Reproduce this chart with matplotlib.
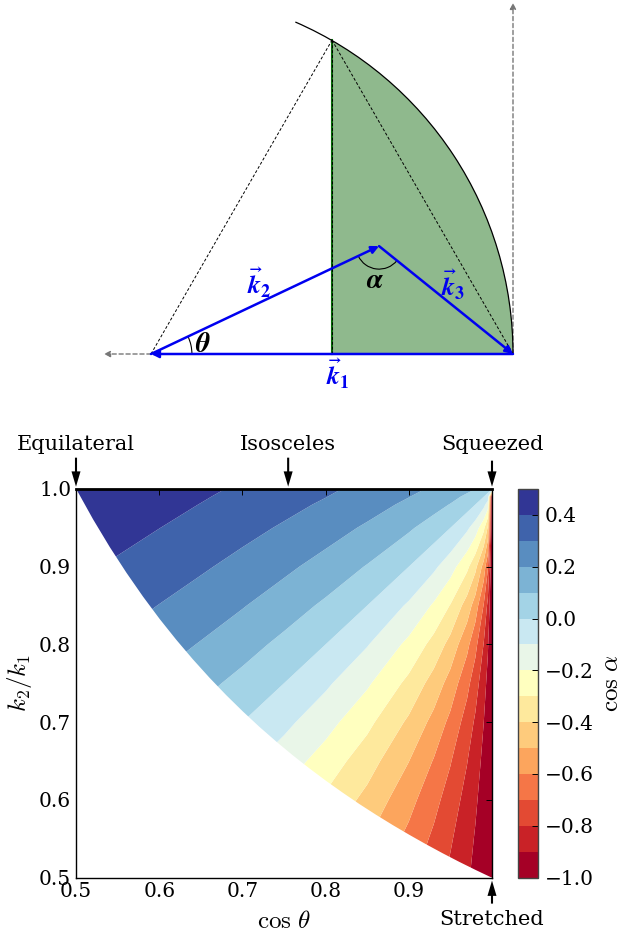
from __future__ import annotations

import matplotlib
matplotlib.use("Agg")
import matplotlib.pyplot as plt
from matplotlib.patches import Arc, FancyArrowPatch, Rectangle, Wedge
import numpy as np

nan = float("nan")

cos_theta = [0.5, 0.55, 0.6, 0.65, 0.7, 0.75, 0.8, 0.85, 0.9, 0.93, 0.95, 0.97, 0.98, 0.99, 0.995, 1.0]
k_ratio = [0.5, 0.55, 0.6, 0.65, 0.7, 0.75, 0.8, 0.85, 0.9, 0.95, 0.98, 0.99, 1.0]

# cos(alpha) read on the grid above, one list per k2/k1 row
row_050 = [nan] * 8 + [-.676, -.760, -.822, -.888, -.924, -.961, -.980, -1.0]
row_055 = [nan] * 6 + [-.385, -.495, -.626, -.719, -.788, -.865, -.908, -.952, -.976, -1.0]
row_060 = [nan] * 5 + [-.221, -.316, -.429, -.567, -.668, -.746, -.836, -.886, -.940, -.970, -1.0]
row_065 = [nan] * 4 + [-.070, -.149, -.243, -.355, -.498, -.606, -.693, -.796, -.856, -.924, -.961, -1.0]
row_070 = [nan] * 3 + [.066, 0, -.075, -.164, -.274, -.417, -.530, -.625, -.743, -.815, -.899, -.947, -1.0]
row_075 = [nan] * 2 + [.184, .130, .070, 0, -.083, -.186, -.325, -.440, -.539, -.671, -.756, -.862, -.926, -1.0]
row_080 = [nan] + [.287, .243, .194, .139, .075, 0, -.094, -.224, -.333, -.433, -.573, -.671, -.803, -.890, -1.0]
row_085 = [nan] + [.338, .298, .255, .206, .149, .083, 0, -.114, -.213, -.305, -.443, -.547, -.704, -.824, -1.0]
row_090 = [.419, .387, .351, .313, .270, .221, .164, .094, 0, -.081, -.158, -.277, -.373, -.538, -.689, -1.0]
row_095 = [.461, .432, .401, .367, .330, .289, .243, .186, .114, .054, 0, -.082, -.149, -.273, -.411, -1.0]
row_098 = [.485, .458, .429, .398, .365, .328, .287, .240, .181, .135, .096, .041, 0, -.071, -.149, -1.0]
row_099 = [.492, .466, .438, .408, .376, .341, .302, .257, .202, .161, .127, .082, .050, 0, -.050, -1.0]
row_100 = [.500, .474, .447, .418, .387, .354, .316, .274, .224, .187, .158, .122, .100, .071, .050, 0]

# lower edge of the coloured region
edge_cos = [.5, .52, .54, .56, .58, .6, .62, .64, .66, .68, .7, .72, .74, .76, .78, .8, .82, .84, .86,
            .88, .9, .92, .94, .96, .98, 1.0]
edge_ratio = [1.0, .9615, .9259, .8929, .8621, .8333, .8065, .7813, .7576, .7353, .7143, .6944, .6757,
              .6579, .6410, .625, .6098, .5952, .5814, .5682, .5556, .5435, .5319, .5208, .5102, .5]

levels = [-1.0, -.9, -.8, -.7, -.6, -.5, -.4, -.3, -.2, -.1, 0, .1, .2, .3, .4, .5]
x_ticks = [.5, .6, .7, .8, .9, 1.0]
x_tick_labels = ["0.5", "0.6", "0.7", "0.8", "0.9", ""]
y_ticks = [.5, .6, .7, .8, .9, 1.0]
cbar_ticks = [-1.0, -.8, -.6, -.4, -.2, 0, .2, .4]

# triangle in units of k1, tail of k1 side at the origin
k2_tip = (0.63, 0.298)
apex = (0.5, 0.867)
k1_end = (1.0, 0.0)

W, H = 620, 936
BLUE = "#0000f0"
plt.rcParams["font.family"] = "DejaVu Serif"
plt.rcParams["font.size"] = 12
plt.rcParams["mathtext.fontset"] = "cm"

fig = plt.figure(figsize=(W / 100, H / 100), dpi=100)


def px_axes(x0, y0, x1, y1):
    return fig.add_axes([x0 / W, 1 - y1 / H, (x1 - x0) / W, (y1 - y0) / H])


# top diagram
dg = px_axes(0, 0, W, 400)
scale = 362.0
dg.set_xlim(-151 / scale, (W - 151) / scale)
dg.set_ylim((354 - 400) / scale, 354 / scale)
dg.axis("off")

green = Wedge((0, 0), 1.0, 0, 60, facecolor="#8fb98d", edgecolor="none", zorder=1)
dg.add_patch(green)
green.set_clip_path(Rectangle((0.5, 0), 0.6, 1.0, transform=dg.transData))
dg.add_patch(Arc((0, 0), 2, 2, theta1=0, theta2=66.5, color="k", lw=0.9, zorder=3))
dg.plot([apex[0], apex[0]], [0, apex[1]], color="#0a6a0a", lw=1.5, zorder=2)
for a, b in [((0, 0), apex), (apex, k1_end), ((apex[0], 0), apex)]:
    dg.plot([a[0], b[0]], [a[1], b[1]], color="k", lw=0.7, ls=(0, (3, 2)), zorder=3)


def arrow(a, b, color, lw, ls="-", ms=11, z=4):
    dg.add_patch(FancyArrowPatch(a, b, arrowstyle="-|>", mutation_scale=ms, color=color, lw=lw,
                                 linestyle=ls, shrinkA=0, shrinkB=0, zorder=z))


arrow((0, 0), (-0.13, 0), "#777777", 1.0, ls=(0, (3, 2)), ms=9, z=2)
arrow(k1_end, (1.0, 0.97), "#777777", 1.0, ls=(0, (3, 2)), ms=9, z=2)
arrow(k1_end, (0, 0), BLUE, 1.8)
arrow((0, 0), k2_tip, BLUE, 1.8)
arrow(k2_tip, k1_end, BLUE, 1.8)

ang_k2 = np.degrees(np.arctan2(k2_tip[1], k2_tip[0]))
ang_k3 = np.degrees(np.arctan2(k1_end[1] - k2_tip[1], k1_end[0] - k2_tip[0]))
dg.add_patch(Arc((0, 0), 0.226, 0.226, theta1=0, theta2=ang_k2, color="k", lw=0.8, zorder=3))
dg.add_patch(Arc(k2_tip, 0.127, 0.127, theta1=180 + ang_k2, theta2=360 + ang_k3, color="k", lw=0.8, zorder=3))


def dg_text(px, py, s, color, size=18.5):
    dg.text((px - 151) / scale, (354 - py) / scale, s, color=color, fontsize=size, ha="center", va="center",
            math_fontfamily="stix", zorder=5)


dg_text(338, 374, r"$\vec{\boldsymbol{k}}_{\mathbf{1}}$", BLUE)
dg_text(259, 283, r"$\vec{\boldsymbol{k}}_{\mathbf{2}}$", BLUE)
dg_text(453, 285, r"$\vec{\boldsymbol{k}}_{\mathbf{3}}$", BLUE)
dg_text(203, 344, r"$\boldsymbol{\theta}$", "k", size=20)
dg_text(375, 281, r"$\boldsymbol{\alpha}$", "k", size=20)

# contour panel
ax = px_axes(76, 489, 492, 877.5)
grid = np.ma.masked_invalid(np.array([row_050, row_055, row_060, row_065, row_070, row_075, row_080,
                                      row_085, row_090, row_095, row_098, row_099, row_100]))
cmap = plt.get_cmap("RdYlBu", len(levels) - 1)
cs = ax.contourf(cos_theta, k_ratio, grid, levels=levels, cmap=cmap, vmin=-1.0, vmax=0.5, antialiased=True)
ax.fill_between(edge_cos, 0.5, edge_ratio, color="white", lw=0, zorder=2)
ax.set_xlim(0.5, 1.0)
ax.set_ylim(0.5, 1.0)
ax.set_xticks(x_ticks)
ax.set_xticklabels(x_tick_labels)
ax.set_yticks(y_ticks)
ax.tick_params(direction="in", top=True, right=True, length=4, width=0.7, labelsize=14.5, pad=3.5)
ax.spines["top"].set_linewidth(2.0)
for side in ["left", "right", "bottom"]:
    ax.spines[side].set_linewidth(1.0)
ax.set_xlabel(r"$\cos\,\theta$", fontsize=18, va="center")
ax.xaxis.set_label_coords(0.5, -0.114)
ax.set_ylabel(r"$k_2/k_1$", fontsize=18, va="center")
ax.yaxis.set_label_coords(-0.135, 0.5)


def note(label, x, y, tip_y, tail_px, text_px):
    ax.annotate("", xy=(x, tip_y), xytext=(0, tail_px * 0.72), textcoords="offset points", annotation_clip=False,
                arrowprops=dict(facecolor="k", edgecolor="none", width=1.5, headwidth=6.5, headlength=11, shrink=0))
    ax.annotate(label, xy=(x, y), xytext=(0, text_px * 0.72), textcoords="offset points", ha="center",
                va="center", fontsize=15, annotation_clip=False)


note("Equilateral", 0.5, 1.0, 1.003, 29, 44)
note("Isosceles", 0.755, 1.0, 1.003, 29, 44)
note("Squeezed", 1.0, 1.0, 1.003, 26, 44)
note("Stretched", 1.0, 0.5, 0.496, -23, -42)

# colour bar
cax = px_axes(518, 489, 538, 877.5)
cbar = fig.colorbar(cs, cax=cax, ticks=cbar_ticks)
cbar.ax.tick_params(direction="in", length=4, width=0.7, labelsize=14.5, pad=5)
cbar.outline.set_edgecolor("#444444")
cbar.outline.set_linewidth(1.0)
cbar.set_label(r"$\cos\,\alpha$", fontsize=18, va="center")
cax.yaxis.set_label_coords(4.7, 0.5)

fig.savefig("out.png", dpi=100)
plt.close(fig)
